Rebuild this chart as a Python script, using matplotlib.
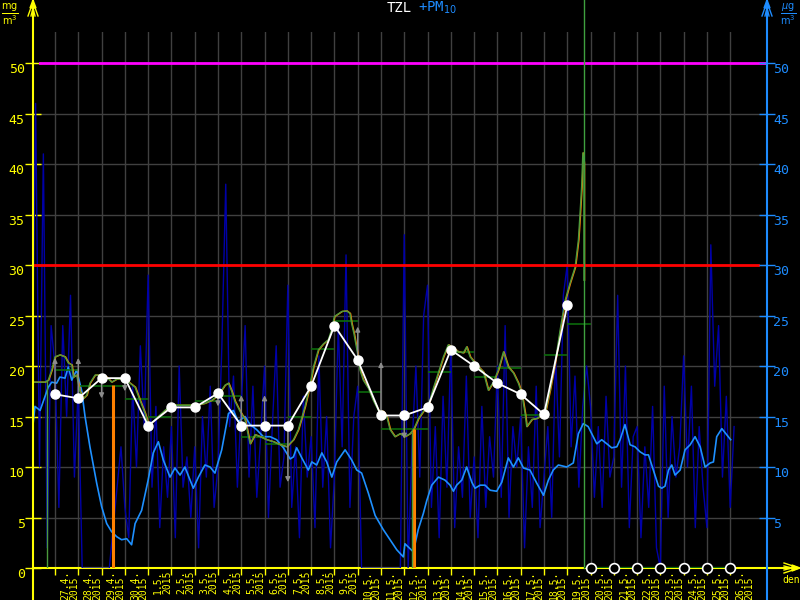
import numpy as np
import matplotlib.pyplot as plt

YEL = '#ffff00'
BLU = '#1e8cff'
NAVY = '#0000a8'
LBLUE = '#1e90ff'
GREEN = '#4c9a3c'
DKGREEN = '#0b6a0b'
ORANGE = '#ff8000'
GRAY = '#8c8c8c'
MONO = 'DejaVu Sans Mono'

# x = days since 27.4.2015 00:00
date_labels = ['27.4.', '28.4.', '29.4.', '30.4.', '1.5.', '2.5.', '3.5.', '4.5.', '5.5.', '6.5.',
               '7.5.', '8.5.', '9.5.', '10.5.', '11.5.', '12.5.', '13.5.', '14.5.', '15.5.', '16.5.',
               '17.5.', '18.5.', '19.5.', '20.5.', '21.5.', '22.5.', '23.5.', '24.5.', '25.5.', '26.5.']
year_label = '2015'

# PM10 raw values, every 4 hours, starting 26.4. 00:00
pm_raw = [
    14, 46, 10, 41, 2, 24,
    20, 6, 24, 15, 27, 9,
    18, 0, 0, 0, 0, 0,
    0, 0, 0, 4, 8, 12,
    6, 3, 18, 10, 22, 14,
    29, 8, 16, 4, 12, 7,
    14, 3, 20, 8, 11, 5,
    12, 2, 15, 9, 18, 6,
    10, 22, 38, 14, 19, 8,
    16, 24, 9, 18, 7, 13,
    20, 5, 14, 22, 8, 11,
    28, 6, 12, 3, 17, 9,
    13, 4, 21, 8, 15, 2,
    9, 24, 12, 31, 6, 15,
    18, 0, 0, 0, 0, 0,
    0, 0, 0, 0, 0, 0,
    33, 0, 12, 20, 9, 25,
    28, 6, 14, 3, 17, 8,
    22, 4, 12, 7, 19, 5,
    11, 3, 16, 6, 13, 9,
    20, 7, 24, 5, 14, 10,
    15, 2, 12, 6, 18, 4,
    9, 14, 5, 21, 11, 27,
    30, 12, 19, 8, 16, 20,
    16, 7, 14, 6, 17, 9,
    11, 27, 8, 20, 4, 13,
    14, 3, 12, 6, 16, 2,
    0, 18, 5, 15, 9, 12,
    21, 10, 18, 4, 14, 8,
    4, 32, 18, 24, 9, 17,
    6, 14,
]
pm_raw_t = np.arange(len(pm_raw)) / 6 - 1.0

# PM10 running average
pm_avg_t = [-1.0, -0.86, -0.64, -0.43, -0.29, -0.14, 0.07, 0.21, 0.43, 0.57, 0.72, 0.93, 1.15, 1.29,
            1.5, 1.79, 2.0, 2.22, 2.43, 2.65, 2.86, 3.08, 3.29, 3.44, 3.72, 4.0, 4.22, 4.44, 4.65,
            4.94, 5.15, 5.37, 5.58, 5.8, 5.94, 6.16, 6.44, 6.66, 6.87, 7.16, 7.45, 7.66, 7.87, 8.16,
            8.38, 8.66, 8.95, 9.24, 9.52, 9.81, 10.1, 10.24, 10.38, 10.6, 10.88, 11.03, 11.24, 11.46,
            11.67, 11.89, 12.1, 12.46, 12.74, 12.96, 13.17, 13.46, 13.75, 14.1, 14.39, 14.68, 14.96,
            15.03, 15.39, 15.6, 15.82, 15.97, 16.18, 16.47, 16.75, 16.97, 17.11, 17.25, 17.47, 17.68,
            17.9, 18.04, 18.26, 18.47, 18.69, 18.97, 19.19, 19.47, 19.69, 19.9, 20.12, 20.4, 20.69,
            20.98, 21.19, 21.4, 21.62, 21.98, 22.26, 22.48, 22.69, 22.9, 23.27, 23.48, 23.7, 23.91,
            24.13, 24.27, 24.48, 24.7, 24.91, 25.13, 25.34, 25.49, 25.7, 25.92, 26.06, 26.2, 26.35,
            26.49, 26.63, 26.85, 27.06, 27.28, 27.49, 27.71, 27.92, 28.14, 28.28, 28.42, 28.64,
            28.85, 29.02]
pm_avg = [13.0, 16.0, 15.6, 17.0, 17.9, 18.4, 18.3, 18.9, 18.8, 19.9, 18.6, 19.6, 17.5, 15.0,
          12.0, 8.4, 6.1, 4.4, 3.6, 3.1, 2.8, 2.9, 2.3, 4.4, 5.7, 8.7, 11.4, 12.5, 10.7,
          9.0, 9.9, 9.2, 10.0, 8.7, 7.9, 9.0, 10.2, 10.0, 9.4, 11.7, 15.3, 15.6, 14.5, 15.0,
          14.2, 13.7, 13.0, 13.0, 12.7, 11.9, 10.8, 11.0, 11.9, 10.9, 9.7, 10.5, 10.2, 11.4,
          10.5, 9.0, 10.5, 11.7, 10.7, 9.7, 9.4, 7.4, 5.2, 3.8, 2.8, 1.8, 1.1,
          2.4, 1.6, 3.8, 5.4, 6.7, 8.2, 9.0, 8.7, 8.2, 7.6, 8.2, 8.7, 10.0,
          8.5, 7.9, 8.2, 8.2, 7.7, 7.6, 8.5, 10.9, 10.0, 10.9, 9.9, 9.7, 8.4,
          7.2, 8.7, 9.7, 10.2, 10.0, 10.4, 13.3, 14.3, 14.0, 12.3, 12.7, 12.3, 11.9,
          12.0, 12.7, 14.2, 12.2, 12.0, 11.5, 11.2, 11.2, 9.7, 8.1, 7.9, 8.1, 9.7,
          10.2, 9.2, 9.7, 11.7, 12.2, 13.0, 12.0, 10.0, 10.4, 10.5, 13.0, 13.8,
          13.2, 12.7]

# TZL running values
tzl_t = [-1.0, -0.43, -0.29, -0.14, 0.0, 0.21, 0.43, 0.57, 0.72, 0.79, 0.93, 1.07, 1.22, 1.36,
         1.5, 1.72, 1.93, 2.22, 2.43, 2.65, 3.0, 3.22, 3.44, 3.65, 3.87, 4.01, 4.22, 4.44, 4.72,
         5.01, 5.3, 5.66, 6.09, 6.44, 6.73, 7.01, 7.3, 7.45, 7.59, 7.73, 7.95, 8.16, 8.38, 8.59,
         8.81, 9.09, 9.38, 9.67, 9.95, 10.24, 10.45, 10.74, 10.95, 11.1, 11.31, 11.53, 11.74,
         11.88, 12.0, 12.32, 12.53, 12.67, 12.74, 12.84, 12.99, 13.1, 13.24, 13.46, 13.67, 13.89,
         14.1, 14.25, 14.39, 14.6, 14.82, 15.03, 15.25, 15.42, 15.61, 15.82, 16.04, 16.25, 16.46,
         16.68, 16.89, 17.11, 17.32, 17.54, 17.68, 17.83, 18.11, 18.4, 18.61, 18.83, 19.04, 19.26,
         19.47, 19.69, 19.9, 20.05, 20.19, 20.26, 20.48, 20.69, 20.91, 21.05, 21.26, 21.48, 21.69,
         21.91, 22.12, 22.34, 22.48, 22.55, 22.62, 22.67, 22.72, 22.72]
tzl = [18.4, 18.4, 18.6, 19.6, 20.9, 21.1, 20.9, 20.3, 20.1, 18.9, 19.1, 17.5, 16.8, 17.1,
       18.3, 19.1, 19.1, 18.9, 18.4, 18.7, 18.7, 18.3, 17.9, 16.6, 15.3, 14.2, 14.5, 15.0, 15.6,
       16.1, 16.1, 16.1, 16.1, 16.3, 16.6, 17.1, 18.1, 18.3, 17.5, 16.5, 15.5, 14.7, 12.3, 13.2,
       13.0, 12.7, 12.5, 12.2, 12.0, 12.7, 13.7, 16.0, 18.1, 19.9, 21.6, 22.2, 22.6,
       23.6, 24.9, 25.4, 25.45, 25.2, 24.2, 23.2, 21.3, 19.6, 18.6, 17.8, 16.6, 15.6,
       15.5, 15.0, 13.7, 13.0, 13.3, 13.0, 13.3, 13.8, 14.8, 15.5, 16.1, 17.8, 19.3,
       20.9, 22.1, 21.8, 21.4, 21.3, 21.9, 20.9, 20.1, 19.4, 17.6, 18.4, 19.6, 21.4,
       19.9, 19.3, 18.3, 17.3, 15.3, 14.0, 14.7, 14.8, 15.1, 15.3, 17.6, 20.3, 23.5,
       26.5, 28.2, 29.8, 32.5, 35.1, 37.8, 41.1, 40.1, 28.5]

# daily values (days 0..22)
daily_mean = [17.2, 16.8, 18.8, 18.8, 14.1, 15.9, 15.9, 17.3, 14.1, 14.1, 14.1, 18.0, 24.0,
              20.6, 15.1, 15.1, 15.9, 21.6, 20.0, 18.3, 17.2, 15.2, 26.0]
daily_avg = [19.6, 18.0, 18.0, 16.7, 15.0, 16.1, 16.5, 17.0, 13.0, 12.3, 15.0, 21.7, 24.5,
             17.4, 13.8, 13.8, 19.4, 21.4, 18.9, 19.8, 15.1, 21.1, 24.2]
days = np.arange(len(daily_mean))

arrow_days = [0, 1, 2, 3, 7, 8, 9, 10, 13, 14, 15]
arrow_to = [20.8, 20.8, 16.8, 17.5, 16.0, 17.1, 17.1, 8.5, 23.9, 20.4, 12.8]

gap_days = [2.49, 15.42]
gap_tops = [18.1, 13.8]
mark_days = [-0.33, 15.35]
mark_tops = [18.6, 13.5]

nodata_days = [23, 24, 25, 26, 27, 28, 29]
now_day = 22.72
limits = [50, 30]

fig = plt.figure(figsize=(8, 6), dpi=100, facecolor='black')
ax = fig.add_axes([33 / 800, 32 / 600, 734 / 800, 536 / 600], facecolor='black')
ax.set_xlim(-0.945, 30.58)
ax.set_ylim(0, 53.07)
for s in ax.spines.values():
    s.set_visible(False)

ax.set_xticks(range(len(date_labels)))
ax.set_xticklabels([])
ax.tick_params(axis='x', colors=YEL, direction='out', length=5, width=1)
ax.set_yticks(range(0, 51, 5))
ax.set_yticklabels([str(v) for v in range(0, 51, 5)], family=MONO, fontsize=9.5)
ax.tick_params(axis='y', colors=YEL, direction='inout', length=12, width=1, pad=0)
for t in ax.get_yticklabels():
    t.set_va('top')
ax.grid(True, color='#404040', lw=1)
ax.set_axisbelow(True)

ax2 = ax.twinx()
ax2.set_ylim(ax.get_ylim())
for s in ax2.spines.values():
    s.set_visible(False)
ax2.set_yticks(range(5, 51, 5))
ax2.set_yticklabels([str(v) for v in range(5, 51, 5)], family=MONO, fontsize=9.5)
ax2.tick_params(axis='y', colors=BLU, direction='inout', length=12, width=1, pad=-1.5)
for t in ax2.get_yticklabels():
    t.set_va('top')

# x axis line with arrow
ax.plot([0, 762 / 734], [0, 0], color=YEL, lw=1.5, transform=ax.transAxes, clip_on=False, zorder=1)

for i, lab in enumerate(date_labels):
    ax.text(i + 0.62, -0.004, lab + '\n' + year_label, transform=ax.get_xaxis_transform(),
            rotation=90, ha='center', va='top', multialignment='left', linespacing=0.85,
            fontsize=7, family=MONO, color=YEL)

ax.plot(pm_raw_t, pm_raw, color=NAVY, lw=1, zorder=2)
ax.plot(pm_avg_t, pm_avg, color=LBLUE, lw=1.2, zorder=3)
ax.hlines(daily_avg, days, days + 1, color=DKGREEN, lw=1.2, zorder=3.5)
ax.plot(np.array(tzl_t) + 0.025, tzl, color=ORANGE, lw=1, zorder=4)
ax.plot(tzl_t, tzl, color=GREEN, lw=1, zorder=4.5)
ax.vlines(gap_days, 0, gap_tops, color=ORANGE, lw=2.2, zorder=4.6)
ax.vlines(mark_days, 0, mark_tops, color=GREEN, lw=1, zorder=4.6)

ax.axhline(limits[0], xmin=7 / 734, xmax=1, color='#ff00ff', lw=2, zorder=5)
ax.axhline(limits[1], xmin=0, xmax=725 / 734, color='#ff0000', lw=2, zorder=5)
ax.axvline(now_day, ymin=0, ymax=568 / 536, color='#3fa03f', lw=1, clip_on=False, zorder=5)

ax.hlines(0, now_day, nodata_days[-1], color=DKGREEN, lw=1.5, zorder=5)
for d, v in zip(arrow_days, arrow_to):
    ax.annotate('', xy=(d, v), xytext=(d, daily_mean[d]),
                arrowprops=dict(arrowstyle='-|>', color=GRAY, lw=1, mutation_scale=7,
                                shrinkA=0, shrinkB=0), zorder=6)
ax.plot(days, daily_mean, color='white', lw=1.3, marker='o', markersize=6.5, zorder=7)
ax.plot(nodata_days, [0] * len(nodata_days), ls='none', marker='o', markersize=7,
        markerfacecolor='black', markeredgecolor='white', markeredgewidth=1.2,
        clip_on=False, zorder=8)

# decorations in figure pixels
deco = fig.add_axes([0, 0, 1, 1], facecolor='none', zorder=5)
deco.set_xlim(0, 800)
deco.set_ylim(600, 0)
deco.axis('off')
deco.plot([33, 33], [0, 600], color=YEL, lw=1.5)
deco.plot([767, 767], [0, 600], color=BLU, lw=1.5)
for x0, c in ((33, YEL), (767, BLU)):
    deco.fill([x0, x0 - 3, x0 + 3], [0, 8, 8], color=c)
    deco.plot([x0 - 5, x0, x0 + 5], [16, 2, 16], color=c, lw=1)
    deco.plot([x0 - 2, x0, x0 + 2], [16, 8, 16], color=c, lw=1)
deco.fill([800, 792, 792], [568, 565, 571], color=YEL)
deco.plot([784, 799, 784], [563, 568, 573], color=YEL, lw=1)
deco.plot([784, 792, 784], [566, 568, 570], color=YEL, lw=1)
deco.text(791, 580, 'den', color=YEL, fontsize=7, family=MONO, ha='center', va='center')
deco.text(10, 14, r'$\frac{\mathrm{mg}}{\mathrm{m}^3}$', color=YEL, fontsize=10, ha='center', va='center')
deco.text(788, 14, r'$\frac{\mu\mathrm{g}}{\mathrm{m}^3}$', color=BLU, fontsize=10, ha='center', va='center')
deco.text(412, 8, 'TZL', color='white', fontsize=10, family=MONO, ha='right', va='center')
deco.text(418, 8, '+PM$_{10}$', color=BLU, fontsize=10, family=MONO, ha='left', va='center')

fig.savefig('out.png', dpi=100, facecolor='black')
